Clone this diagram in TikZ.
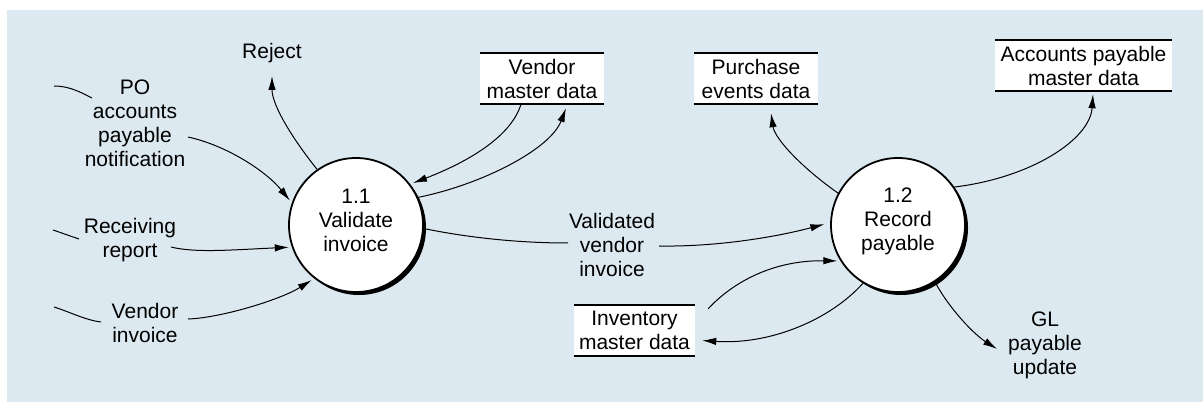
\documentclass[tikz,border=0pt]{standalone}
\usepackage{fontspec}
\setmainfont{Liberation Sans}
\usetikzlibrary{arrows.meta,shadows,calc}
\definecolor{panel}{RGB}{220,233,240}
\begin{document}
\begin{tikzpicture}[x=1pt,y=-1pt,
  lbl/.style={align=center,font=\fontsize{21}{24}\selectfont,inner sep=0pt},
  proc/.style={circle,draw,line width=1.8pt,fill=white,minimum size=134pt,inner sep=0pt,
    drop shadow={shadow xshift=3pt,shadow yshift=-3pt,opacity=1,fill=black}},
  store/.style={fill=white,align=center,font=\fontsize{21}{24}\selectfont,inner sep=0pt,minimum height=51pt},
  flow/.style={line width=1pt,-{Latex[length=14pt,width=7.5pt]}},
  tail/.style={line width=1pt}
]
\useasboundingbox (0,0) rectangle (1204,403);
\fill[panel] (7,10) rectangle (1203,402);

% processes
\node[proc] (p1) at (356,225) {};
\node[proc] (p2) at (898,225) {};
\node[lbl] (t1) at (356,220) {1.1\\Validate\\invoice};
\node[lbl] (t2) at (898,221) {1.2\\Record\\payable};

% data stores
\node[store,minimum width=124pt] (vm) at (542,78.5) {Vendor\\master data};
\node[store,minimum width=124pt] (pe) at (756,78.5) {Purchase\\events data};
\node[store,minimum width=177pt] (ap) at (1083.5,65.5) {Accounts payable\\master data};
\node[store,minimum width=121pt] (inv) at (634.5,330.5) {Inventory\\master data};
\foreach \n in {vm,pe,ap,inv}
  \draw[line width=2.2pt] (\n.north west) -- (\n.north east) (\n.south west) -- (\n.south east);

% labels
\node[lbl] (rej) at (272,53) {Reject};
\node[lbl] (po) at (135,123) {PO\\accounts\\payable\\notification};
\node[lbl] (rec) at (130,240) {Receiving\\report};
\node[lbl] (vi) at (145,323) {Vendor\\invoice};
\node[lbl] (va) at (612,245) {Validated\\vendor\\invoice};
\node[lbl] (gl) at (1045,345) {GL\\payable\\update};

% free ends
\coordinate (rejE) at (272,76);
\coordinate (poA) at (54,86);   \coordinate (poB) at (92,98);   \coordinate (poC) at (188,137);
\coordinate (recA) at (53,230); \coordinate (recB) at (79,239); \coordinate (recC) at (171,247);
\coordinate (viA) at (54,307);  \coordinate (viB) at (101,322); \coordinate (viC) at (188,319);
\coordinate (vaB) at (568,243); \coordinate (vaC) at (659,246);
\coordinate (glE) at (997,349);

% inputs to 1.1
\draw[tail] (poA) .. controls (70,86) and (82,93) .. (poB);
\draw[flow,shorten >=3pt] (poC) .. controls (225,145) and (265,170) .. (p1.161);
\draw[tail] (recA) .. controls (62,233) and (70,236) .. (recB);
\draw[flow,shorten >=3pt] (recC) .. controls (195,253) and (230,250) .. (p1.199);
\draw[tail] (viA) .. controls (70,312) and (85,320) .. (viB);
\draw[flow,shorten >=3pt] (viC) .. controls (220,318) and (280,300) .. (p1.232);

% 1.1 flows
\draw[flow] (p1.125) .. controls (292,138) and (272,105) .. (rejE);
\draw[flow,shorten >=3pt] ($(vm.south)+(-21,0)$) .. controls (510,140) and (460,165) .. (p1.37);
\draw[flow] (p1.24) .. controls (480,185) and (550,150) .. ($(vm.south)+(24,4)$);
\draw[tail] (p1.-3) .. controls (470,238) and (520,243) .. (vaB);
\draw[flow,shorten >=6pt] (vaC) .. controls (720,247) and (780,236) .. (p2.178);

% 1.2 flows
\draw[flow] (p2.152) .. controls (805,170) and (775,140) .. ($(pe.south)+(15,9)$);
\draw[flow] (p2.34) .. controls (1030,178) and (1090,140) .. ($(ap.south)+(9.5,3)$);
\draw[flow,shorten >=3pt] ($(inv.north east)+(13,4)$) .. controls (730,285) and (770,260) .. (p2.212);
\draw[flow] (p2.239) .. controls (830,320) and (770,345) .. ($(inv.east)+(7,10)$);
\draw[flow] (p2.-57) .. controls (950,310) and (975,335) .. (glE);
\end{tikzpicture}
\end{document}
